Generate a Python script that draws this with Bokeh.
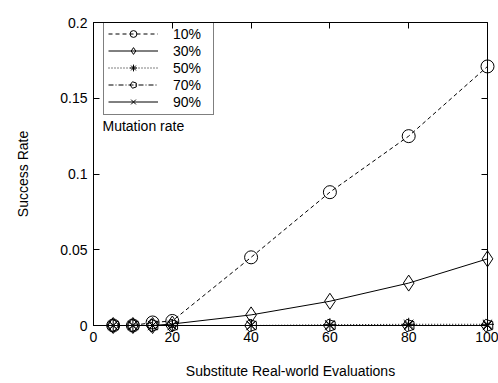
from bokeh.plotting import figure
from bokeh.models import Range1d, LinearAxis, FixedTicker, Legend, LegendItem, Label
from bokeh.embed import file_html
from bokeh.resources import INLINE

# ---- data ----
evaluations = [5, 10, 15, 20, 40, 60, 80, 100]
rate_10 = [0.0, 0.0, 0.002, 0.003, 0.045, 0.088, 0.125, 0.171]
rate_30 = [0.0, 0.0, 0.0, 0.001, 0.007, 0.016, 0.028, 0.044]
rate_50 = [0.0, 0.0, 0.0, 0.0, 0.0, 0.0005, 0.0008, 0.0008]
rate_70 = [0.0, 0.0, 0.0, 0.0, 0.0, 0.0, 0.0, 0.0]
rate_90 = [0.0, 0.0, 0.0, 0.0, 0.0, 0.0, 0.0, 0.0]
series_labels = ["10%", "30%", "50%", "70%", "90%"]
x_ticks = [0, 20, 40, 60, 80, 100]
y_ticks = [0, 0.05, 0.1, 0.15, 0.2]
y_tick_labels = ["0", "0.05", "0.1", "0.15", "0.2"]

FONT = "Liberation Sans"

p = figure(width=498, height=383, output_backend="svg", toolbar_location=None,
           x_range=Range1d(0, 100), y_range=Range1d(0, 0.2),
           min_border_left=93, min_border_right=11, min_border_top=22, min_border_bottom=58)
p.background_fill_color = "white"
p.border_fill_color = "white"
p.xgrid.visible = False
p.ygrid.visible = False
p.outline_line_color = "black"
p.outline_line_width = 1

for ax in (p.xaxis[0], p.yaxis[0]):
    ax.major_tick_in = 6
    ax.major_tick_out = 0
    ax.minor_tick_in = 0
    ax.minor_tick_out = 0
    ax.axis_line_color = "black"
    ax.major_label_text_font = FONT
    ax.major_label_text_font_size = "14px"
    ax.major_label_text_color = "black"
    ax.axis_label_text_font = FONT
    ax.axis_label_text_font_size = "14px"
    ax.axis_label_text_font_style = "normal"
    ax.axis_label_text_color = "black"

p.xaxis[0].ticker = FixedTicker(ticks=x_ticks)
p.yaxis[0].ticker = FixedTicker(ticks=y_ticks)
p.yaxis[0].major_label_overrides = {t: l for t, l in zip(y_ticks, y_tick_labels)}
p.xaxis[0].axis_label = "Substitute Real-world Evaluations"
p.yaxis[0].axis_label = "Success Rate"
p.xaxis[0].major_label_standoff = 6
p.yaxis[0].major_label_standoff = 6
p.xaxis[0].axis_label_standoff = 18
p.yaxis[0].axis_label_standoff = 26

# mirrored ticks on top and right
for loc, tks in (("above", x_ticks), ("right", y_ticks)):
    a = LinearAxis(ticker=FixedTicker(ticks=tks))
    a.major_tick_in = 6
    a.major_tick_out = 0
    a.minor_tick_in = 0
    a.minor_tick_out = 0
    a.major_label_overrides = {t: "" for t in tks}
    a.major_label_standoff = 0
    a.axis_line_color = None
    p.add_layout(a, loc)

series = [
    (rate_10, "circle", "4 3"),
    (rate_30, "diamond", "solid"),
    (rate_50, "asterisk", "1 2"),
    (rate_70, "pentagon", "5 2 1 2"),
    (rate_90, "x", "solid"),
]

items = []
for (vals, marker, dash), lab in zip(series, series_labels):
    ln = p.line(evaluations, vals, line_color="black", line_width=1, line_dash=dash)
    if marker == "pentagon":
        sc = p.ngon(x=evaluations, y=vals, radius=6.5, radius_units="screen", n=5,
                    angle=1.5707963, line_color="black", fill_color=None, line_width=1)
    else:
        sz = 16 if marker == "diamond" else 13
        sc = p.scatter(evaluations, vals, marker=marker, size=sz, line_color="black",
                       fill_color=None, line_width=1)
    sc.level = "overlay"
    items.append(LegendItem(label=lab, renderers=[ln, sc]))

leg = Legend(items=items, location=(10, 210))
leg.padding = 4
leg.margin = 0
leg.spacing = 0
leg.glyph_width = 50
leg.glyph_height = 17
leg.label_height = 17
leg.label_width = 36
leg.label_standoff = 15
leg.label_text_font = FONT
leg.label_text_font_size = "14px"
leg.label_text_color = "black"
leg.border_line_color = "black"
leg.border_line_width = 1
leg.background_fill_alpha = 0
p.add_layout(leg)

p.add_layout(Label(x=9, y=200, x_units="screen", y_units="screen", text="Mutation rate",
                   text_font=FONT, text_font_size="14px", text_color="black",
                   text_baseline="middle"))

open("out.html", "w").write(file_html(p, INLINE))
